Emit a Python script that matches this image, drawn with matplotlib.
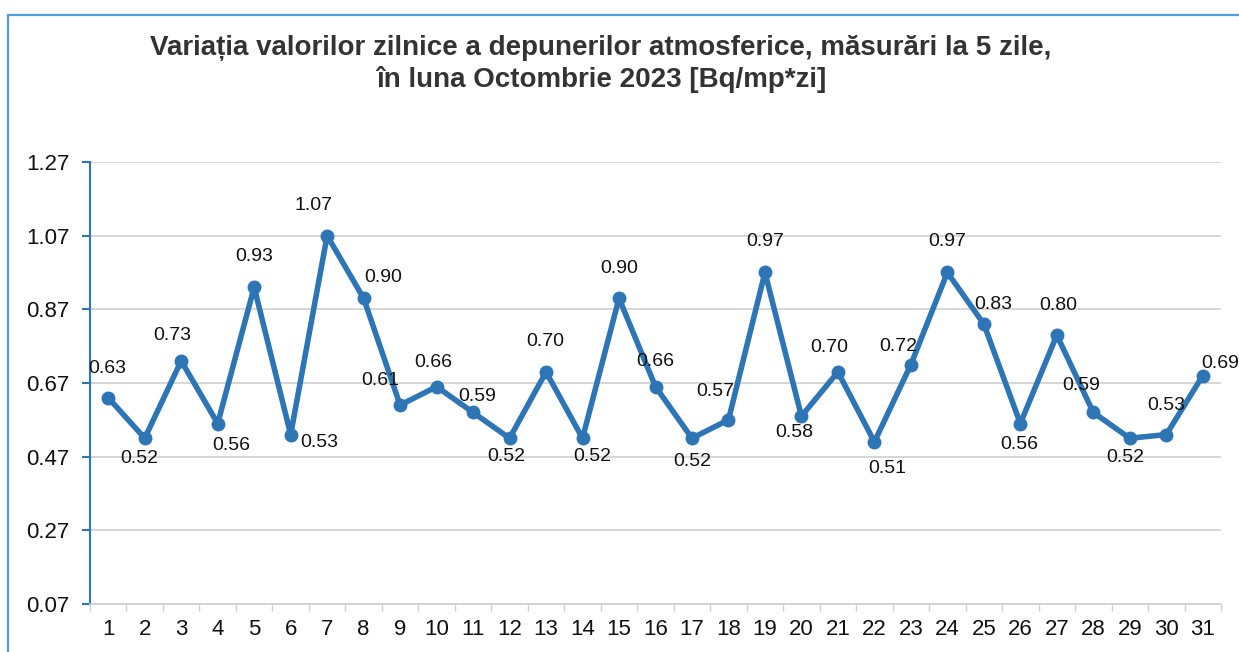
import matplotlib
matplotlib.use("Agg")
import matplotlib.pyplot as plt
from matplotlib.patches import Rectangle
import numpy as np

plt.rcParams['font.family'] = ['Liberation Sans', 'DejaVu Sans']

days = list(range(1, 32))
values = [0.63, 0.52, 0.73, 0.56, 0.93, 0.53, 1.07, 0.90, 0.61, 0.66, 0.59,
          0.52, 0.70, 0.52, 0.90, 0.66, 0.52, 0.57, 0.97, 0.58, 0.70, 0.51,
          0.72, 0.97, 0.83, 0.56, 0.80, 0.59, 0.52, 0.53, 0.69]
yticks = [0.07, 0.27, 0.47, 0.67, 0.87, 1.07, 1.27]
title = "Variația valorilor zilnice a depunerilor atmosferice, măsurări la 5 zile,\nîn luna Octombrie 2023 [Bq/mp*zi]"

# data-label offsets in pixels (dx, dy up)
label_offsets = [(-1, 29), (-5, -20), (-9, 25), (14, -22), (0, 31), (29, -8),
                 (-14, 30), (20, 21), (-20, 25), (-3, 24), (4, 16), (-3, -18),
                 (-1, 30), (10, -18), (0, 30), (0, 25), (0, -23), (-13, 28),
                 (0, 31), (-7, -16), (-9, 24), (13, -27), (-13, 18), (0, 31),
                 (9, 20), (-1, -21), (1, 30), (-12, 27), (-5, -19), (0, 29),
                 (17, 12)]

W, H = 1239, 652
fig = plt.figure(figsize=(W / 100, H / 100), dpi=100)
fig.patch.set_facecolor('white')

# outer border (partially clipped)
fig.add_artist(Rectangle((8 / W, -0.1), 1.2, 1 - 15 / H + 0.1, transform=fig.transFigure,
                         fill=False, edgecolor='#4a9ee0', lw=1.6))

ax = fig.add_axes([90 / W, 1 - 604 / H, (1221 - 90) / W, (604 - 162) / H])
blue = '#2e75b6'
ax.plot(days, values, color=blue, lw=4, marker='o', ms=9, zorder=3,
        solid_joinstyle='round')

ax.set_xlim(0.5, 31.5)
ax.set_ylim(0.07, 1.27)
ax.set_yticks(yticks)
ax.set_yticklabels([f"{v:.2f}" for v in yticks])
ax.set_xticks(days)
ax.set_xticklabels([str(d) for d in days])
ax.set_xticks(np.arange(0.5, 32, 1), minor=True)

ax.grid(axis='y', color='#cfcfcf', lw=1.2)
ax.set_axisbelow(True)
for s in ['top', 'right']:
    ax.spines[s].set_visible(False)
ax.spines['left'].set_color(blue)
ax.spines['left'].set_linewidth(1.5)
ax.spines['bottom'].set_color('#cfcfcf')
ax.spines['bottom'].set_linewidth(1.2)

ax.tick_params(axis='y', colors=blue, length=6, width=1.5, labelsize=16, labelcolor='#111111', pad=9)
ax.tick_params(axis='x', which='major', length=0, labelsize=16, labelcolor='#111111', pad=11)
ax.tick_params(axis='x', which='minor', length=5, color='#cfcfcf', width=1)

for d, v, off in zip(days, values, label_offsets):
    ax.annotate(f"{v:.2f}", (d, v), xytext=off, textcoords='offset pixels',
                ha='center', va='center', fontsize=14, color='#111111', zorder=4)

fig.text(0.485, 1 - 64 / H, title, ha='center', va='center', fontsize=20,
         fontweight='bold', color='#333333', linespacing=1.2)

fig.savefig('out.png', dpi=100)
